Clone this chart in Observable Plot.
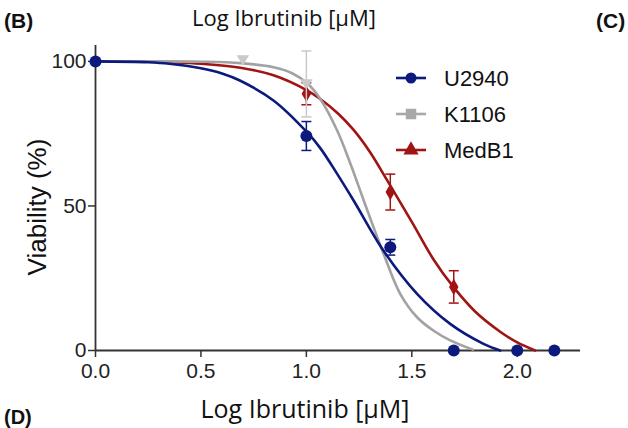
<!DOCTYPE html>
<html><head><meta charset="utf-8">
<script src="https://cdn.jsdelivr.net/npm/d3@7"></script>
<script src="https://cdn.jsdelivr.net/npm/@observablehq/plot@0.6"></script>
<style>body{margin:0;background:#fff}#chart{width:628px;height:428px;overflow:hidden}</style>
</head><body><div id="chart"></div>
<script>
// ---- data ----
const seriesNames = ["U2940", "K1106", "MedB1"];
const xTicks = [0, 0.5, 1.0, 1.5, 2.0];
const yTicks = [0, 50, 100];

// measured points (log µM, viability %, error)
const u2940X = [0, 1.0, 1.398, 1.699, 2.0, 2.176];
const u2940Y = [100, 74.2, 35.7, 0, 0, 0];
const u2940E = [0, 5.0, 2.7, 0, 0, 0];
const k1106X = [0.699, 1.0];
const k1106Y = [100.5, 92.2];
const k1106E = [0, 11.4];
const medb1X = [1.0, 1.398, 1.699];
const medb1Y = [88.8, 54.8, 22.0];
const medb1E = [3.8, 6.2, 5.6];

// fitted curves
const u2940CurveX = [0, 0.25, 0.35, 0.5, 0.6, 0.687, 0.844, 1.003, 1.066, 1.146, 1.224, 1.366, 1.525, 1.682, 1.84, 1.919];
const u2940CurveY = [100, 99.7, 99.2, 97.6, 95.8, 93.3, 86.5, 75.5, 70.0, 61.1, 51.9, 34.5, 19.6, 9.2, 2.3, 0];
const k1106CurveX = [0, 0.25, 0.5, 0.687, 0.844, 0.93, 1.003, 1.066, 1.146, 1.209, 1.272, 1.366, 1.445, 1.525, 1.602, 1.682, 1.79];
const k1106CurveY = [100, 100, 99.9, 99.4, 98.0, 96.0, 92.5, 87.0, 76.1, 64.6, 51.9, 33.5, 19.6, 11.5, 6.9, 3.5, 0.3];
const medb1CurveX = [0, 0.25, 0.35, 0.5, 0.687, 0.844, 1.003, 1.066, 1.15, 1.224, 1.303, 1.382, 1.5, 1.603, 1.698, 1.80, 1.919, 2.0, 2.085];
const medb1CurveY = [100, 99.9, 99.7, 99.2, 97.8, 95.2, 90.0, 87.0, 82.0, 76.3, 68.5, 59.0, 44.5, 31.5, 21.9, 13.5, 6.5, 2.8, 0];

// ---- styles ----
const lineColors = {U2940: "#0c1a7d", K1106: "#a2a2a2", MedB1: "#a11414"};
const markColors = {U2940: "#0c1a7d", K1106: "#c9c9c9", MedB1: "#a11414"};
const FONT = "'Liberation Sans', Arial, sans-serif";

const zip = (xs, ys, s, es) => xs.map((x, i) => ({x, y: ys[i], e: es ? es[i] : 0, s}));
const curves = [
  ...zip(medb1CurveX, medb1CurveY, "MedB1"),
  ...zip(k1106CurveX, k1106CurveY, "K1106"),
  ...zip(u2940CurveX, u2940CurveY, "U2940")
];
const ptsU = zip(u2940X, u2940Y, "U2940", u2940E);
const ptsK = zip(k1106X, k1106Y, "K1106", k1106E);
const ptsM = zip(medb1X, medb1Y, "MedB1", medb1E);
const withErr = d => d.filter(p => p.e > 0);

const capSymbol = {draw(ctx, size) { const w = Math.sqrt(size / Math.PI); ctx.moveTo(-w, 0); ctx.lineTo(w, 0); }};
const downTriangle = {draw(ctx, size) { const r = Math.sqrt(size / Math.PI) * 1.25; ctx.moveTo(-r, -r * 0.75); ctx.lineTo(r, -r * 0.75); ctx.lineTo(0, r * 0.9); ctx.closePath(); }};

function errMarks(data, color) {
  const d = withErr(data);
  return [
    Plot.ruleX(d, {x: "x", y1: p => p.y - p.e, y2: p => p.y + p.e, stroke: color, strokeWidth: 1.5}),
    Plot.dot(d, {x: "x", y: p => p.y + p.e, symbol: capSymbol, r: 5, stroke: color, strokeWidth: 1.5, fill: "none"}),
    Plot.dot(d, {x: "x", y: p => p.y - p.e, symbol: capSymbol, r: 5, stroke: color, strokeWidth: 1.5, fill: "none"})
  ];
}

const plot = Plot.plot({
  width: 628, height: 428,
  marginLeft: 95, marginRight: 48, marginTop: 45, marginBottom: 78,
  style: {fontFamily: FONT, background: "#fff"},
  x: {domain: [0, 2.3]},
  y: {domain: [0, 105.5]},
  marks: [
    Plot.axisX({ticks: xTicks, tickFormat: d => d.toFixed(1), tickSize: 7, tickPadding: 6, fontSize: 21, label: null, stroke: "#333", strokeWidth: 1.5, color: "#222"}),
    Plot.axisY({ticks: yTicks, tickSize: 7, tickPadding: 2, fontSize: 21, label: null, stroke: "#333", strokeWidth: 1.5, color: "#222"}),
    Plot.ruleY([0], {stroke: "#333", strokeWidth: 1.8}),
    Plot.ruleX([0], {stroke: "#333", strokeWidth: 1.8}),
    Plot.line(curves, {x: "x", y: "y", z: "s", stroke: d => lineColors[d.s], strokeWidth: 2.6, curve: "catmull-rom"}),
    ...errMarks(ptsM, markColors.MedB1),
    Plot.dot(ptsM, {x: "x", y: "y", symbol: "diamond", r: 5, fill: markColors.MedB1}),
    ...errMarks(ptsK, markColors.K1106),
    Plot.dot(ptsK, {x: "x", y: "y", symbol: downTriangle, r: 5, fill: markColors.K1106}),
    ...errMarks(ptsU, markColors.U2940),
    Plot.dot(ptsU, {x: "x", y: "y", r: 6, fill: markColors.U2940})
  ]
});
document.getElementById("chart").append(plot);

// ---- extra texts and legend ----
const svg = d3.select(plot);
const addText = (txt, x, y, font, size, opts = {}) => {
  const t = svg.append("text").text(txt).attr("x", x).attr("y", y)
    .attr("font-family", font).attr("font-size", size).attr("fill", "#111")
    .attr("text-anchor", opts.anchor || "start");
  if (opts.bold) t.attr("font-weight", "bold");
  if (opts.transform) t.attr("transform", opts.transform);
  return t;
};
addText("(B)", 4, 28, FONT, 21, {bold: true});
addText("(C)", 596, 28, FONT, 21, {bold: true});
addText("(D)", 4, 424, FONT, 20, {bold: true});
addText("Log Ibrutinib [µM]", 284, 26, "'Open Sans', sans-serif", 22, {anchor: "middle"});
addText("Log Ibrutinib [µM]", 305, 418, "'Open Sans', sans-serif", 25, {anchor: "middle"});
addText("Viability (%)", 0, 0, FONT, 26, {anchor: "middle", transform: "translate(46,207) rotate(-90)"});

const symbols = {U2940: d3.symbolCircle, K1106: d3.symbolSquare, MedB1: d3.symbolTriangle};
const symSize = {U2940: 95, K1106: 110, MedB1: 100};
const legendLine = {U2940: "#0c1a7d", K1106: "#a8a8a8", MedB1: "#a11414"};
seriesNames.forEach((s, i) => {
  const g = svg.append("g").attr("transform", `translate(411,${78 + 36 * i})`);
  g.append("line").attr("x1", -15).attr("x2", 15).attr("stroke", legendLine[s]).attr("stroke-width", 2.6);
  g.append("path").attr("d", d3.symbol(symbols[s], symSize[s])()).attr("fill", legendLine[s]);
  g.append("text").text(s).attr("x", 33).attr("y", 8).attr("text-anchor", "start")
    .attr("font-family", FONT).attr("font-size", 22).attr("fill", "#111");
});
</script></body></html>
